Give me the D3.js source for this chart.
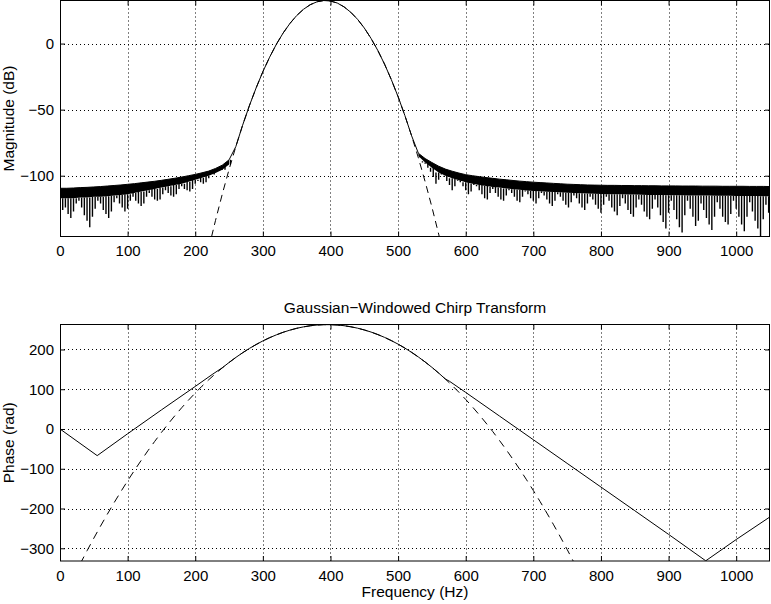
<!DOCTYPE html>
<html><head><meta charset="utf-8">
<script src="https://cdn.jsdelivr.net/npm/d3@7"></script>
<style>
html,body{margin:0;padding:0;background:#fff;}
svg{display:block;font-family:"Liberation Sans",Arial,Helvetica,sans-serif;}
.tick text{font-size:15px;fill:#000;}
</style></head>
<body>
<svg id="chart" width="771" height="604"></svg>
<script>
// ---------------- data ----------------
const xTicks = [0,100,200,300,400,500,600,700,800,900,1000];
const magTicks = [-100,-50,0];
const phaseTicks = [-300,-200,-100,0,100,200];
const titleText = "Gaussian\u2212Windowed Chirp Transform";
const xLabel = "Frequency (Hz)";
const magLabel = "Magnitude (dB)";
const phaseLabel = "Phase (rad)";

// magnitude (solid), every 10 Hz from 0 to 1050
const magFreq = d3.range(0, 1051, 10);
const magSolid = [-109.5,-109.5,-109.3,-109.0,-108.8,-108.5,-108.2,-107.8,-107.4,-107.0,
 -106.5,-106.0,-105.4,-104.8,-104.2,-103.5,-102.7,-101.9,-101.0,-100.0,
 -99.0,-97.8,-96.5,-94.5,-92.0,-88.0,-78.0,-61.9,-47.1,-33.6,
 -21.3,-10.3,-0.5,8.0,15.2,21.2,25.9,29.4,31.6,32.6,
 32.2,30.7,27.8,23.7,18.4,11.8,3.9,-5.2,-15.6,-27.3,
 -40.2,-54.4,-69.8,-83.0,-87.0,-90.0,-92.8,-95.0,-96.6,-98.0,
 -99.2,-100.0,-100.7,-101.4,-102.0,-102.6,-103.1,-103.6,-104.1,-104.5,
 -104.9,-105.2,-105.5,-105.8,-106.1,-106.4,-106.6,-106.8,-107.0,-107.1,
 -107.2,-107.3,-107.3,-107.4,-107.4,-107.5,-107.5,-107.6,-107.6,-107.7,
 -107.7,-107.7,-107.8,-107.8,-107.8,-107.9,-107.9,-107.9,-108.0,-108.0,
 -108.0,-108.0,-108.1,-108.1,-108.1,-108.2];

// ideal gaussian magnitude (dashed), 220..570 every 10 Hz
const magIdealFreq = d3.range(220, 571, 10);
const magIdeal = [-154.9,-133.8,-113.9,-95.3,-78.0,-61.9,-47.1,-33.6,-21.3,-10.3,
 -0.5,8.0,15.2,21.2,25.9,29.4,31.6,32.6,32.2,30.7,
 27.8,23.7,18.4,11.8,3.9,-5.2,-15.6,-27.3,-40.2,-54.4,
 -69.8,-86.5,-104.5,-123.7,-144.2,-165.9];

// dense lower edge of the noise band
const floorFreqL = d3.range(0, 251, 10);
const floorL = [-117,-117,-117,-116.5,-116.5,-116,-116,-115.5,-115,-114.5,
 -114,-113,-112,-111,-110,-109,-108,-107,-106,-104.5,
 -103,-101.5,-100,-98,-95.5,-91.5];
const floorFreqR = d3.range(530, 1051, 10);
const floorR = [-85,-90,-94,-97.5,-100,-102,-103.5,-105,-106,-107,
 -107.8,-108.5,-109,-109.6,-110.2,-110.7,-111.1,-111.5,-111.8,-112.1,
 -112.4,-112.6,-112.8,-113,-113.2,-113.4,-113.6,-113.8,-114,-114,
 -114.1,-114.2,-114.3,-114.4,-114.5,-114.5,-114.6,-114.7,-114.8,-114.8,
 -114.9,-115,-115,-115,-115.1,-115.2,-115.2,-115.3,-115.3,-115.4,
 -115.4,-115.5,-115.5];

// spike depths of the noise floor (every 4 Hz)
const spikeFreqL = d3.range(0, 253, 4);
const spikeL = [-122,-126,-124,-129,-132,-127,-121,-119,-124,-130,
 -134,-139,-131,-125,-119,-121,-126,-129,-132,-127,
 -120,-117,-121,-124,-127,-125,-119,-116,-119,-121,
 -123,-121,-116,-113,-116,-118,-119,-118,-114,-111,
 -113,-115,-116,-114,-110,-108,-110,-111,-112,-110,
 -106,-104,-105,-106,-105,-102,-100,-99,-98,-96,
 -95,-93,-91,-88];
const spikeFreqR = d3.range(532, 1049, 4);
const spikeR = [-86,-89,-91,-94,-97,-101,-106,-103,-99,-101,
 -104,-107,-111,-108,-104,-105,-108,-111,-114,-112,
 -107,-108,-111,-114,-117,-118,-113,-110,-113,-116,
 -118,-119,-115,-111,-113,-116,-119,-120,-116,-112,
 -114,-117,-119,-121,-117,-113,-115,-118,-121,-123,
 -119,-114,-116,-119,-122,-124,-120,-115,-117,-121,
 -124,-126,-121,-116,-118,-122,-125,-128,-122,-116,
 -119,-124,-127,-130,-123,-117,-121,-126,-129,-131,
 -124,-118,-122,-127,-131,-133,-125,-118,-124,-130,
 -135,-140,-128,-119,-126,-133,-139,-143,-130,-119,
 -125,-131,-138,-134,-121,-126,-132,-137,-141,-131,
 -120,-125,-131,-135,-137,-129,-119,-125,-131,-137,
 -142,-131,-120,-127,-134,-140,-146,-133,-122,-128];

// phase (solid)
const phaseFreq = [0,55,100,150,200,225,240,250,260,270,280,290,300,310,320,330,340,350,360,370,
 380,390,400,410,420,430,440,450,460,470,480,490,500,510,520,530,540,550,560,570,
 576,600,650,700,750,800,850,900,955,1000,1050];
const phaseSolid = [0,-67,-12,48,107,137,154,167.2,179.9,191.6,202.5,212.4,221.5,229.6,236.8,243.2,248.6,253.2,256.8,259.6,
 261.4,262.4,262.4,261.6,259.8,257.1,253.6,249.1,243.8,237.5,230.4,222.3,213.4,203.5,192.7,181.1,168.5,155.1,140.7,125.5,
 120,92,32.5,-27,-86.5,-146,-205.5,-265,-331.5,-278,-221];

// ideal phase (dashed), 30..760 every 10 Hz
const phaseIdealFreq = d3.range(30, 761, 10);
const phaseIdeal = [-338.7,-306.2,-274.7,-244.0,-214.3,-185.4,-157.5,-130.4,-104.3,-79.1,
 -54.7,-31.3,-8.7,12.9,33.7,53.5,72.5,90.5,107.7,123.9,
 139.2,153.7,167.2,179.9,191.6,202.5,212.4,221.5,229.6,236.8,
 243.2,248.6,253.2,256.8,259.6,261.4,262.4,262.4,261.6,259.8,
 257.1,253.6,249.1,243.8,237.5,230.4,222.3,213.4,203.5,192.7,
 181.1,168.5,155.1,140.7,125.5,109.3,92.3,74.3,55.5,35.7,
 15.0,-6.5,-29.0,-52.3,-76.6,-101.7,-127.8,-154.7,-182.6,-211.4,
 -241.0,-271.6,-303.0,-335.4];

// ---------------- drawing ----------------
const svg = d3.select("#chart");
const font = '"Liberation Sans",Arial,Helvetica,sans-serif';
const L = 60, R = 770;
const top1 = 0.5, bot1 = 236.5;
const top2 = 324.5, bot2 = 561;

const x = d3.scaleLinear().domain([0,1050]).range([L,R]);
const yMag = d3.scaleLinear().domain([-146,32.6]).range([bot1,top1]);
const yPh = d3.scaleLinear().domain([-332,262.8]).range([bot2,top2]);
const fmt = d => d < 0 ? "\u2212" + Math.abs(d) : String(d);

const defs = svg.append("defs");
defs.append("clipPath").attr("id","c1").append("rect")
  .attr("x",L).attr("y",top1).attr("width",R-L).attr("height",bot1-top1);
defs.append("clipPath").attr("id","c2").append("rect")
  .attr("x",L).attr("y",top2).attr("width",R-L).attr("height",bot2-top2);

function drawFrame(y, yT, yB, ticksY) {
  const g = svg.append("g");
  g.selectAll(".gx").data(xTicks.filter(t => t>0)).join("line")
    .attr("x1", d => Math.round(x(d))+0.5).attr("x2", d => Math.round(x(d))+0.5)
    .attr("y1", yT).attr("y2", yB)
    .attr("stroke","#000").attr("stroke-width",1).attr("stroke-dasharray","1,3");
  g.selectAll(".gy").data(ticksY).join("line")
    .attr("x1", L).attr("x2", R)
    .attr("y1", d => Math.round(y(d))+0.5).attr("y2", d => Math.round(y(d))+0.5)
    .attr("stroke","#000").attr("stroke-width",1).attr("stroke-dasharray","1,3");
  const gb = svg.append("g").attr("transform",`translate(0,${yB})`)
    .call(d3.axisBottom(x).tickValues(xTicks).tickSize(-5).tickPadding(9).tickFormat(fmt));
  const ga = svg.append("g").attr("transform",`translate(0,${yT})`)
    .call(d3.axisTop(x).tickValues(xTicks).tickSize(-5).tickFormat(""));
  const gl = svg.append("g").attr("transform",`translate(${L},0)`)
    .call(d3.axisLeft(y).tickValues(ticksY).tickSize(-5).tickPadding(6).tickFormat(fmt));
  const gr = svg.append("g").attr("transform",`translate(${R},0)`)
    .call(d3.axisRight(y).tickValues(ticksY).tickSize(-5).tickFormat(""));
  [gb,ga,gl,gr].forEach(s => {
    s.select(".domain").remove();
    s.selectAll(".tick line").attr("stroke","#000");
    s.selectAll("text").attr("font-family",font).attr("font-size",15);
  });
  svg.append("rect").attr("x",L+0.5).attr("y",yT).attr("width",R-L-1).attr("height",yB-yT)
    .attr("fill","none").attr("stroke","#000").attr("stroke-width",1);
}

// ----- top plot: magnitude -----
const g1 = svg.append("g").attr("clip-path","url(#c1)");
const magAt = new Map(magFreq.map((f,i)=>[f,magSolid[i]]));

function band(ff, fl) {
  const pts = ff.map((f,i)=>({f, lo: fl[i], hi: magAt.get(f)}));
  g1.append("path").datum(pts)
    .attr("d", d3.area().x(d=>x(d.f)).y0(d=>yMag(d.lo)).y1(d=>yMag(d.hi)))
    .attr("fill","#000");
}
band(floorFreqL, floorL);
band(floorFreqR, floorR);

function spikes(ff, vals, floorF, floorV) {
  const fm = new Map(floorF.map((f,i)=>[f,floorV[i]]));
  const n = Math.min(ff.length, vals.length);
  const pts = d3.range(n).map(i => {
    const key = Math.min(floorF[floorF.length-1], Math.max(floorF[0], Math.round(ff[i]/10)*10));
    return {f: ff[i], v: vals[i], up: fm.get(key)};
  });
  g1.selectAll(null).data(pts).join("line")
    .attr("x1", d=>x(d.f)).attr("x2", d=>x(d.f))
    .attr("y1", d=>yMag(d.v)).attr("y2", d=>yMag(d.up))
    .attr("stroke","#000").attr("stroke-width",1.4);
}
spikes(spikeFreqL, spikeL, floorFreqL, floorL);
spikes(spikeFreqR, spikeR, floorFreqR, floorR);

g1.append("path").datum(magFreq.map((f,i)=>[f,magSolid[i]]))
  .attr("d", d3.line().x(d=>x(d[0])).y(d=>yMag(d[1])))
  .attr("fill","none").attr("stroke","#000").attr("stroke-width",1);
g1.append("path").datum(magIdealFreq.map((f,i)=>[f,magIdeal[i]]))
  .attr("d", d3.line().x(d=>x(d[0])).y(d=>yMag(d[1])))
  .attr("fill","none").attr("stroke","#000").attr("stroke-width",1).attr("stroke-dasharray","7,5");

drawFrame(yMag, top1, bot1, magTicks);

// ----- bottom plot: phase -----
const g2 = svg.append("g").attr("clip-path","url(#c2)");
g2.append("path").datum(phaseFreq.map((f,i)=>[f,phaseSolid[i]]))
  .attr("d", d3.line().x(d=>x(d[0])).y(d=>yPh(d[1])))
  .attr("fill","none").attr("stroke","#000").attr("stroke-width",1);
g2.append("path").datum(phaseIdealFreq.map((f,i)=>[f,phaseIdeal[i]]))
  .attr("d", d3.line().x(d=>x(d[0])).y(d=>yPh(d[1])))
  .attr("fill","none").attr("stroke","#000").attr("stroke-width",1).attr("stroke-dasharray","8,6");

drawFrame(yPh, top2, bot2, phaseTicks);

// ----- labels -----
svg.append("text").attr("x",(L+R)/2).attr("y",313).attr("text-anchor","middle")
  .attr("font-size",15.5).attr("font-family",font).text(titleText);
svg.append("text").attr("x",(L+R)/2).attr("y",597).attr("text-anchor","middle")
  .attr("font-size",15.5).attr("font-family",font).text(xLabel);
svg.append("text").attr("transform",`translate(14,${(top1+bot1)/2}) rotate(-90)`)
  .attr("text-anchor","middle").attr("font-size",15.5).attr("font-family",font).text(magLabel);
svg.append("text").attr("transform",`translate(14,${(top2+bot2)/2}) rotate(-90)`)
  .attr("text-anchor","middle").attr("font-size",15.5).attr("font-family",font).text(phaseLabel);
</script>
</body></html>
